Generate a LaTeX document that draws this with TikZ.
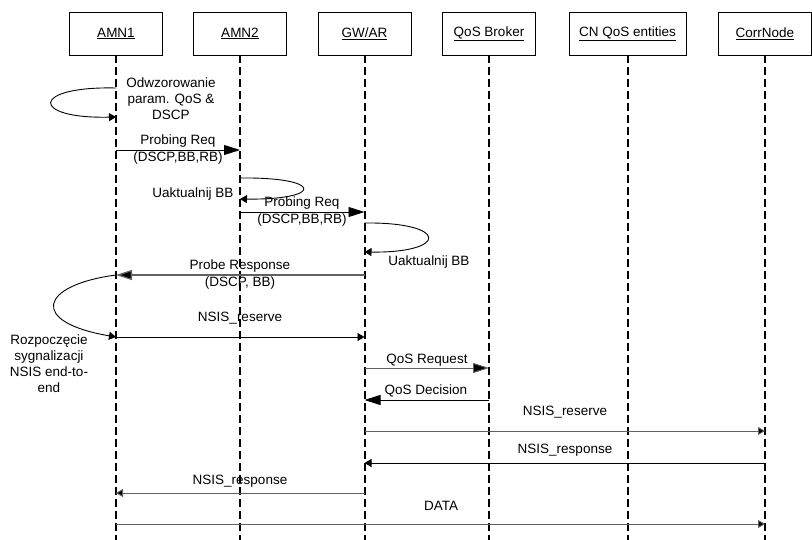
\documentclass[tikz,border=0pt]{standalone}
\usepackage{fontspec}
\setmainfont{Liberation Sans}
\usetikzlibrary{arrows.meta}
\begin{document}
\begin{tikzpicture}[x=1pt,y=-1pt,
  font=\fontsize{13.5}{16}\selectfont,
  actor/.style={draw, line width=0.8pt, minimum width=93pt, minimum height=43pt, inner sep=0pt},
  lifeline/.style={line width=2pt, dash pattern=on 8pt off 4pt},
  msg/.style={line width=0.9pt},
  graymsg/.style={msg, draw=black!62},
  bighead/.style={-{Triangle[length=16pt,width=10pt]}},
  smallhead/.style={-{Triangle[length=7pt,width=8pt]}},
  lbl/.style={inner sep=0pt, align=center}]
\useasboundingbox (0,0) rectangle (812,540);

% participants
\node[actor] (amn1) at (116,33.5) {\underline{AMN1}};
\node[actor] (amn2) at (240,33.5) {\underline{AMN2}};
\node[actor] (gw)   at (364.5,33.5) {\underline{GW/AR}};
\node[actor] (qb)   at (489,33.5) {\underline{QoS Broker}};
\node[actor, minimum width=117pt] (cn) at (627.5,33.5) {\underline{CN QoS entities}};
\node[actor] (corr) at (765,33.5) {\underline{CorrNode}};

% lifelines
\foreach \p in {amn1,amn2,gw,qb,cn,corr}
  \draw[lifeline] (\p.south) -- (\p.south |- 0,540);

% mapping of QoS parameters at AMN1
\draw[msg, smallhead] (amn1 |- 0,88) .. controls (30,86) and (30,119) .. (amn1 |- 0,117);
\node[lbl] (map) at (171,99) {Odwzorowanie\\param. QoS \&\\DSCP};

% probing request AMN1 -> AMN2
\draw[msg, bighead] (amn1 |- 0,150) -- (amn2 |- 0,150);
\node[lbl] (pr1a) at (178,141) {Probing Req};
\node[lbl] (pr1b) at (178,158) {(DSCP,BB,RB)};

% BB update at AMN2
\draw[msg, smallhead] (amn2 |- 0,178) .. controls (324,177) and (324,200) .. (amn2 |- 0,199);
\node[lbl] (up1) at (193,194) {Uaktualnij BB};

% probing request AMN2 -> GW/AR
\draw[msg, bighead] (amn2 |- 0,212) -- (gw |- 0,212);
\node[lbl] (pr2a) at (302,203) {Probing Req};
\node[lbl] (pr2b) at (302,220) {(DSCP,BB,RB)};

% BB update at GW/AR
\draw[msg, smallhead] (gw |- 0,223) .. controls (449,222) and (449,253) .. (gw |- 0,252);
\node[lbl] (up2) at (429,262) {Uaktualnij BB};

% probe response GW/AR -> AMN1
\draw[graymsg, line width=1.3pt, bighead, -{Triangle[length=16pt,width=10pt,fill=black]}] (gw |- 0,275) -- (amn1 |- 0,275);
\node[lbl] (presa) at (240,266) {Probe Response};
\node[lbl] (presb) at (240,283) {(DSCP, BB)};

% start of end-to-end NSIS signalling
\draw[msg, smallhead] (amn1 |- 0,275) .. controls (40,285) and (28,322) .. (amn1 |- 0,337);
\node[lbl] (start) at (49,364) {Rozpoczęcie\\sygnalizacji\\NSIS end-to-\\end};

% NSIS reserve AMN1 -> GW/AR
\draw[msg, smallhead] (amn1 |- 0,337) -- (gw |- 0,337);
\node[lbl] (res1) at (240,318) {NSIS\_reserve};

% QoS broker exchange
\draw[graymsg, bighead, -{Triangle[length=16pt,width=10pt,fill=black]}] (gw |- 0,368) -- (qb |- 0,368);
\node[lbl] (qreq) at (427,360) {QoS Request};
\draw[msg, bighead] (qb |- 0,400) -- (gw |- 0,400);
\node[lbl] (qdec) at (426,391) {QoS Decision};

% NSIS reserve GW/AR -> CorrNode
\draw[graymsg, smallhead, -{Triangle[length=7pt,width=8pt,fill=black]}] (gw |- 0,431) -- (corr |- 0,431);
\node[lbl] (res2) at (565,412) {NSIS\_reserve};

% NSIS response CorrNode -> GW/AR
\draw[msg, smallhead] (corr |- 0,463) -- (gw |- 0,463);
\node[lbl] (resp1) at (565,450) {NSIS\_response};

% NSIS response GW/AR -> AMN1
\draw[graymsg, smallhead, -{Triangle[length=7pt,width=8pt,fill=black]}] (gw |- 0,493) -- (amn1 |- 0,493);
\node[lbl] (resp2) at (240,481) {NSIS\_response};

% data AMN1 -> CorrNode
\draw[graymsg, smallhead, -{Triangle[length=7pt,width=8pt,fill=black]}] (amn1 |- 0,524) -- (corr |- 0,524);
\node[lbl] (data) at (441,506) {DATA};
\end{tikzpicture}
\end{document}
